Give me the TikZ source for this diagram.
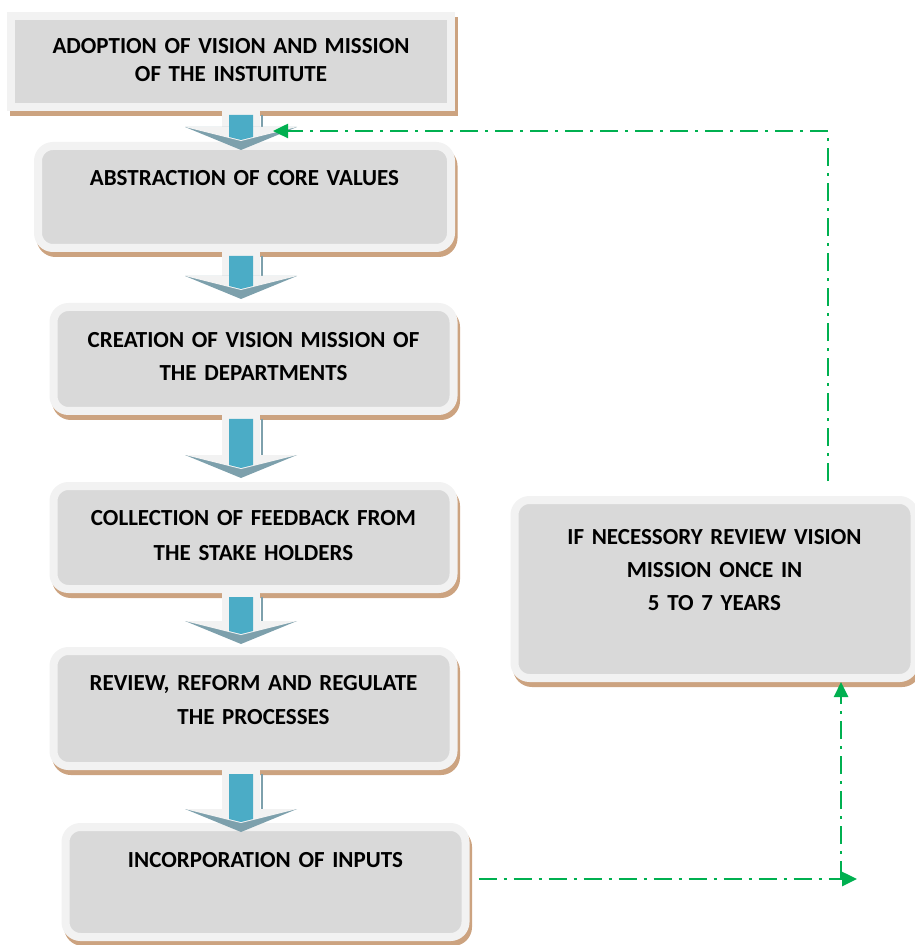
\documentclass[tikz,border=0pt]{standalone}
\usepackage{fontspec}
\setmainfont{Carlito}
\usetikzlibrary{arrows.meta,calc}

\definecolor{boxfill}{HTML}{D9D9D9}
\definecolor{boxrim}{HTML}{F2F2F2}
\definecolor{boxshadow}{RGB}{204,163,128}
\definecolor{stemblue}{HTML}{4BACC6}
\definecolor{headgray}{RGB}{125,160,172}
\definecolor{loopgreen}{HTML}{00B050}

\newcommand{\blockarrow}[3]{%
  \coordinate (top) at (#1.south -| axis);
  \coordinate (tip) at ($(#2.north -| axis)+(0,#3)$);
  \coordinate (hd) at ($(tip)+(0,-23)$);
  \fill[boxrim] ($(top)+(-19,0)$) rectangle ($(hd)+(19,0)$);
  \draw[headgray,line width=0.6pt] ($(top)+(21,4)$) -- ($(hd)+(21,0)$);
  \fill[headgray] ($(hd)+(-56,0)$) -- ($(hd)+(56,0)$) -- (tip) -- cycle;
  \fill[boxrim] ($(hd)+(-56,0)$) -- ($(hd)+(56,0)$) -- ($(tip)+(0,-9)$) -- cycle;
  \fill[stemblue] ($(top)+(-12,4)$) -- ($(hd)+(-12,10)$) -- ($(hd)+(0,13)$)
    -- ($(hd)+(12,10)$) -- ($(top)+(12,4)$) -- cycle;
}

\begin{document}
\begin{tikzpicture}[
x=0.5pt, y=-0.5pt,
flowbox/.style={rectangle, rounded corners=7.5pt, fill=boxfill, draw=boxrim,
  line width=4pt, inner sep=0pt, text width=200pt, align=center,
  text height=8pt, font=\fontsize{11.5}{16.75}\selectfont\bfseries,
  preaction={fill=boxshadow, draw=boxshadow,
    transform canvas={shift={(1.25pt,-2.5pt)}}}},
loopline/.style={draw=loopgreen, line width=1.25pt,
  dash pattern=on 9pt off 3.5pt on 1.5pt off 3.5pt,
  -{Triangle[length=7.5pt,width=7pt]}},
]
\useasboundingbox (0,0) rectangle (914,945);

\node[flowbox, sharp corners, minimum width=220pt, minimum height=45.5pt,
  text depth=16pt, font=\fontsize{11.5}{14}\selectfont\bfseries]
  (adopt) at (231,61.5) {ADOPTION OF VISION AND MISSION\\OF THE INSTUITUTE};
\node[flowbox, minimum width=206.5pt, minimum height=51pt, text depth=19.5pt]
  (abstr) at (244.5,197) {ABSTRACTION OF CORE VALUES};
\node[flowbox, minimum width=197.5pt, minimum height=52pt, text depth=19.5pt,
  font=\fontsize{11.5}{16.5}\selectfont\bfseries]
  (create) at (253.5,359) {CREATION OF VISION MISSION OF\\THE DEPARTMENTS};
\node[flowbox, minimum width=197.5pt, minimum height=51.5pt, text depth=20pt,
  font=\fontsize{11.5}{17.5}\selectfont\bfseries]
  (collect) at (253.5,537.5) {COLLECTION OF FEEDBACK FROM\\THE STAKE HOLDERS};
\node[flowbox, minimum width=197.5pt, minimum height=57.5pt, text depth=26pt,
  font=\fontsize{11.5}{17}\selectfont\bfseries]
  (reform) at (253.5,708.5) {REVIEW, REFORM AND REGULATE\\THE PROCESSES};
\node[flowbox, minimum width=197.5pt, minimum height=55pt, text depth=22.5pt]
  (incorp) at (265.5,882) {INCORPORATION OF INPUTS};
\node[flowbox, minimum width=194.5pt, minimum height=89pt, text depth=52.5pt,
  font=\fontsize{11.5}{16.5}\selectfont\bfseries]
  (revise) at (714.5,589) {IF NECESSORY REVIEW VISION\\MISSION ONCE IN\\5 TO 7 YEARS};

\coordinate (axis) at (241,0);
\blockarrow{adopt}{abstr}{8}
\blockarrow{abstr}{create}{-4}
\blockarrow{create}{collect}{-4}
\blockarrow{collect}{reform}{-3}
\blockarrow{reform}{incorp}{9}

\coordinate (fbx) at (828,0);
\coordinate (fbin) at (273,131);
\draw[loopline] ($(revise.north -| fbx)+(0,-15)$) |- (fbin);
\coordinate (upx) at (841,0);
\coordinate (loopend) at (857,879);
\draw[loopline] ($(incorp.east |- loopend)+(9,0)$) -- (loopend);
\draw[loopline] (upx |- loopend) -- (revise.south -| upx);
\end{tikzpicture}
\end{document}
